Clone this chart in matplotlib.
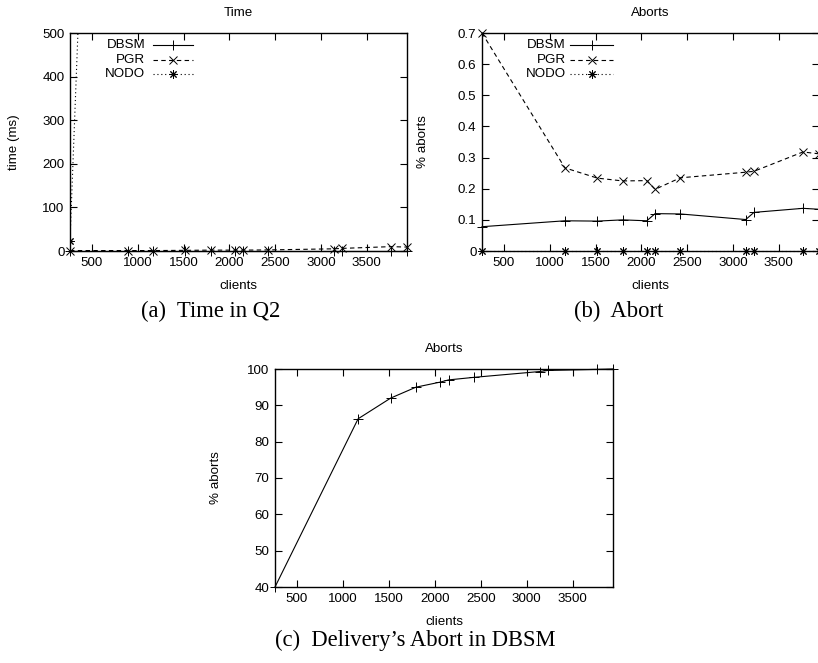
import matplotlib
matplotlib.use("Agg")
import matplotlib.pyplot as plt

plt.rcParams["font.family"] = ["Liberation Sans", "DejaVu Sans"]
FS = 9.6

# ---- data ----
# (a) Time in Q2
clients_a = [260, 890, 1165, 1520, 1795, 2060, 2150, 2425, 3140, 3230, 3765, 3940]
time_dbsm = [1, 1, 1, 1, 1, 1, 1, 1, 1, 1, 1, 1]
time_pgr = [1, 1, 1, 1.5, 2, 2, 2, 2.5, 5, 6, 10, 9]
clients_a_nodo = [260, 890]
time_nodo = [23, 3500]

# (b) Abort
clients_b = [260, 1165, 1520, 1795, 2060, 2150, 2425, 3140, 3230, 3765, 3940]
abort_dbsm = [0.078, 0.097, 0.096, 0.100, 0.097, 0.120, 0.119, 0.101, 0.124, 0.137, 0.134]
abort_pgr = [0.700, 0.267, 0.234, 0.225, 0.226, 0.198, 0.235, 0.253, 0.256, 0.318, 0.312]
abort_nodo = [0, 0, 0, 0, 0, 0, 0, 0, 0, 0, 0]

# (c) Delivery's abort in DBSM
clients_c = [260, 1165, 1520, 1795, 2060, 2150, 2425, 3140, 3230, 3765, 3940]
delivery_dbsm = [40, 86.3, 92.0, 95.0, 96.4, 97.0, 97.7, 99.3, 99.6, 99.9, 100]

xticks = [500, 1000, 1500, 2000, 2500, 3000, 3500]
xlim = (260, 3940)

STYLES = {
    "DBSM": dict(marker="+", ms=7, dashes=None),
    "PGR": dict(marker="x", ms=6, dashes=(4, 3)),
    "NODO": dict(marker=(8, 2, 0), ms=6, dashes=(1, 2.5)),
}

W, H = 818, 663
fig = plt.figure(figsize=(W / 100, H / 100), dpi=100)


def box(l, t, r, b):
    return [l / W, 1 - b / H, (r - l) / W, (b - t) / H]


def line(ax, x, y, name, **kw):
    st = STYLES[name]
    kwargs = dict(color="black", lw=0.8, marker=st["marker"], ms=st["ms"], mew=0.7)
    kwargs.update(kw)
    ln, = ax.plot(x, y, **kwargs)
    if st["dashes"]:
        ln.set_dashes(st["dashes"])
    return ln


def style_axes(ax, title, ylabel, ypad):
    ax.set_xlim(*xlim)
    ax.set_xticks(xticks)
    ax.tick_params(direction="in", length=5, width=0.8, top=True, right=True,
                   labelsize=FS, pad=4)
    for s in ax.spines.values():
        s.set_linewidth(1.0)
    ax.set_title(title, fontsize=FS, pad=12)
    ax.set_xlabel("clients", fontsize=FS, labelpad=8)
    ax.set_ylabel(ylabel, fontsize=FS, labelpad=ypad)


def gp_legend(ax, names, xt, x0, x1, rows):
    # gnuplot-like key: right aligned text followed by the line sample
    for name, yy in zip(names, rows):
        ax.text(xt, yy, name, transform=ax.transAxes, ha="right", va="center",
                fontsize=FS)
        st = STYLES[name]
        ln, = ax.plot([x0, (x0 + x1) / 2, x1], [yy, yy, yy], transform=ax.transAxes,
                      color="black", lw=0.8, marker=st["marker"], ms=st["ms"], mew=0.7,
                      markevery=[1], clip_on=False)
        if st["dashes"]:
            ln.set_dashes(st["dashes"])


# (a)
ax1 = fig.add_axes(box(70, 33, 407, 251))
line(ax1, clients_a, time_dbsm, "DBSM", clip_on=False)
line(ax1, clients_a, time_pgr, "PGR", clip_on=False)
line(ax1, clients_a_nodo, time_nodo, "NODO")
ax1.set_ylim(0, 500)
ax1.set_yticks(range(0, 501, 100))
style_axes(ax1, "Time", "time (ms)", 16)
gp_legend(ax1, ["DBSM", "PGR", "NODO"], 0.223, 0.246, 0.365, [0.945, 0.876, 0.812])

# (b)
ax2 = fig.add_axes(box(482, 33, 819, 251))
line(ax2, clients_b, abort_dbsm, "DBSM", clip_on=False)
line(ax2, clients_b, abort_pgr, "PGR", clip_on=False)
line(ax2, clients_b, abort_nodo, "NODO", clip_on=False)
ax2.set_ylim(0, 0.7)
ax2.set_yticks([0, 0.1, 0.2, 0.3, 0.4, 0.5, 0.6, 0.7])
ax2.set_yticklabels(["0", "0.1", "0.2", "0.3", "0.4", "0.5", "0.6", "0.7"])
style_axes(ax2, "Aborts", "% aborts", 21)
gp_legend(ax2, ["DBSM", "PGR", "NODO"], 0.249, 0.261, 0.389, [0.945, 0.876, 0.812])

# (c)
ax3 = fig.add_axes(box(275, 369, 613, 587))
line(ax3, clients_c, delivery_dbsm, "DBSM", clip_on=False)
ax3.set_ylim(40, 100)
ax3.set_yticks(range(40, 101, 10))
style_axes(ax3, "Aborts", "% aborts", 18)

# captions
cap = dict(family=["Liberation Serif", "DejaVu Serif"], fontsize=16.3, ha="center", va="center")
fig.text(211 / W, 1 - 311 / H, "(a)  Time in Q2", **cap)
fig.text(619 / W, 1 - 311 / H, "(b)  Abort", **cap)
fig.text(415 / W, 1 - 640 / H, "(c)  Delivery\u2019s Abort in DBSM", **cap)

fig.savefig("out.png", dpi=100)
